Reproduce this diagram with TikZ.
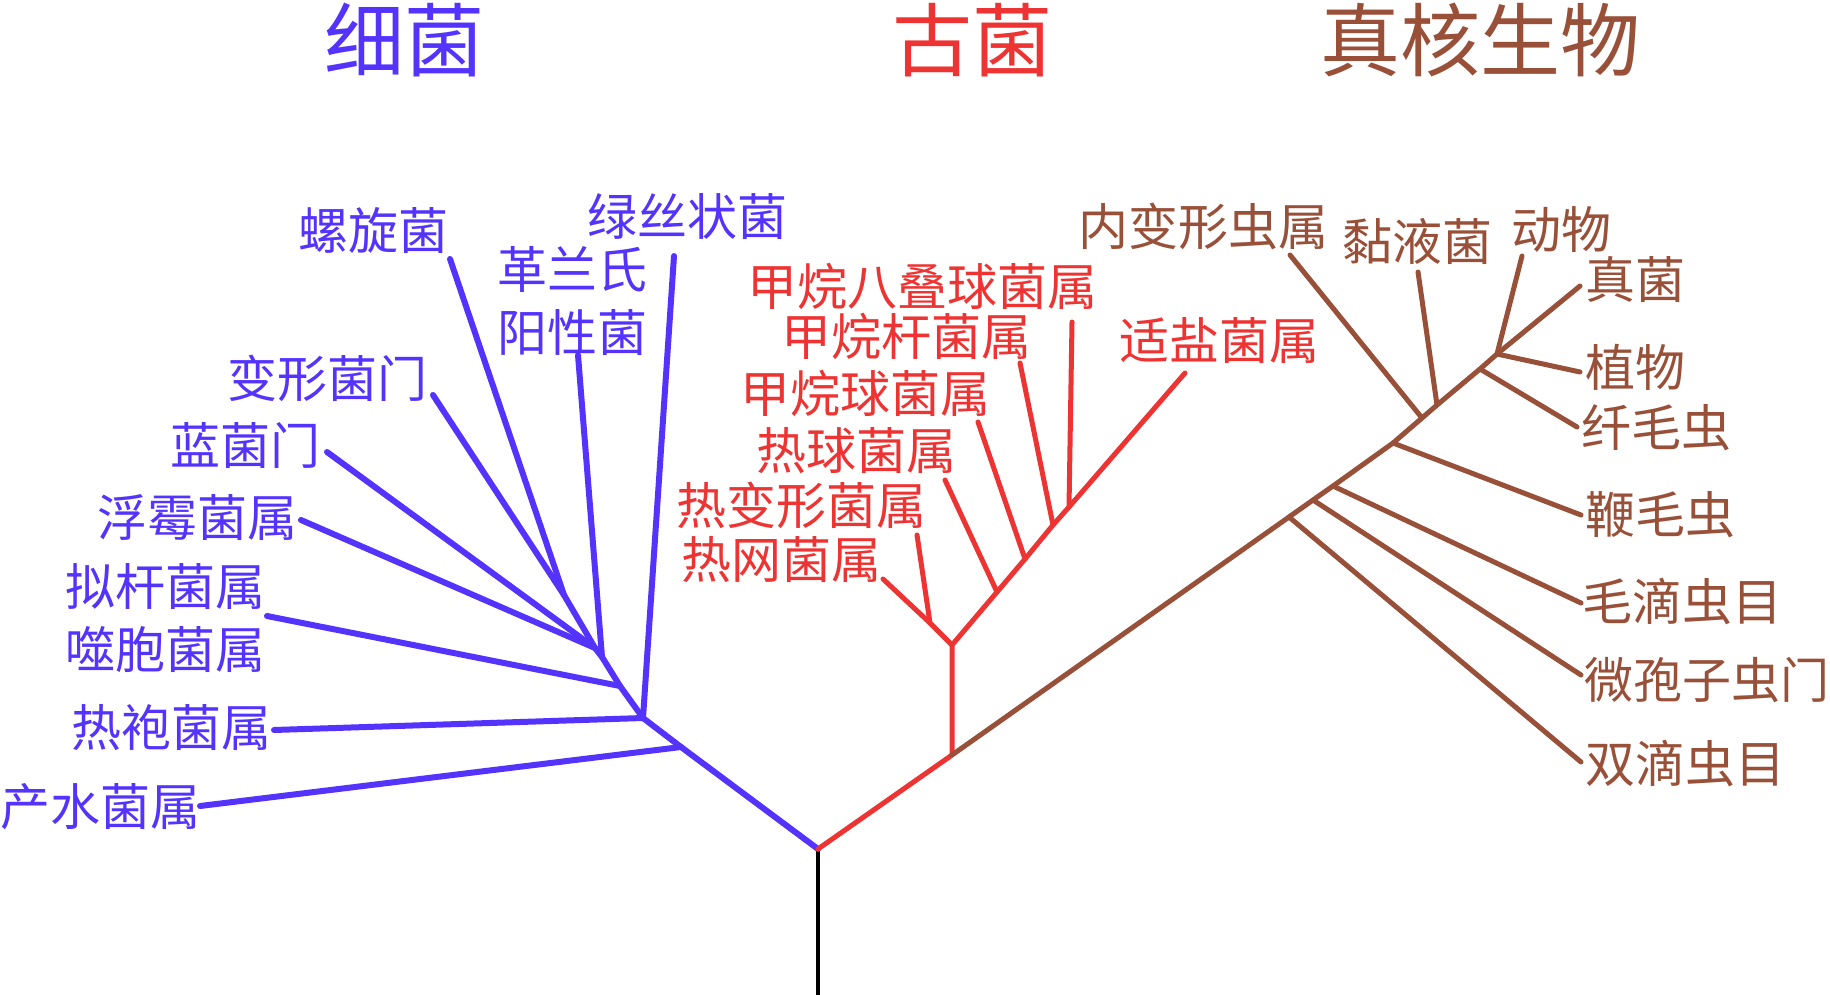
\documentclass[tikz,border=0pt]{standalone}
\usepackage{fontspec}
\setmainfont{Noto Sans CJK SC}
\definecolor{bac}{RGB}{85,51,255}
\definecolor{arc}{RGB}{238,51,51}
\definecolor{euk}{RGB}{153,80,56}
\begin{document}
\begin{tikzpicture}[x=1pt,y=-1pt,
  lbl/.style={inner sep=0pt, font=\fontsize{50}{62.5}\selectfont, align=center},
  ttl/.style={inner sep=0pt, font=\fontsize{80}{90}\selectfont},
  bline/.style={draw=bac, line width=6pt, line cap=round, line join=round},
  aline/.style={draw=arc, line width=5pt, line cap=round, line join=round},
  eline/.style={draw=euk, line width=5pt, line cap=round, line join=round},
  rline/.style={draw=black, line width=4.5pt}
]
\useasboundingbox (0,0) rectangle (1830,995);

% titles
\node[ttl, text=bac] (tb) at (404,40) {细菌};
\node[ttl, text=arc] (ta) at (972,40) {古菌};
\node[ttl, text=euk] (te) at (1480,40) {真核生物};

% ---------- junctions ----------
\coordinate (R) at (818,849);
\coordinate (Rb) at (818,995);
\coordinate (B1) at (681,747);
\coordinate (B2) at (643,718);
\coordinate (B3) at (620,686);
\coordinate (B4) at (602,657);
\coordinate (B5) at (595,648);
\coordinate (B6) at (564,595);

\coordinate (A0) at (952,755);
\coordinate (A1) at (952,645);
\coordinate (A2) at (930,623);
\coordinate (A3) at (997,592);
\coordinate (A4) at (1025,559);
\coordinate (A5) at (1053,525);
\coordinate (A6) at (1069,507);

\coordinate (E1) at (1289,517);
\coordinate (E2) at (1313,500);
\coordinate (E3) at (1333,486);
\coordinate (E4) at (1393,443);
\coordinate (E5) at (1422,418);
\coordinate (E6) at (1437,405);
\coordinate (E7) at (1480,369);
\coordinate (E8) at (1497,354);

% ---------- branch ends ----------
\coordinate (bLuo) at (450,259);
\coordinate (bBian) at (433,395);
\coordinate (bLan) at (327,452);
\coordinate (bFu) at (301,520);
\coordinate (bGe) at (578,355);
\coordinate (bNi) at (267,616);
\coordinate (bLv) at (674,256);
\coordinate (bRe) at (274,730);
\coordinate (bChan) at (200,806);

\coordinate (aWang) at (883,579);
\coordinate (aBian) at (917,535);
\coordinate (aQiu) at (945,480);
\coordinate (aJq) at (978,422);
\coordinate (aJg) at (1020,363);
\coordinate (aJb) at (1072,322);
\coordinate (aShi) at (1185,373);

\coordinate (eShuang) at (1581,762);
\coordinate (eWei) at (1581,675);
\coordinate (eMao) at (1581,603);
\coordinate (eBian) at (1581,515);
\coordinate (eNei) at (1290,255);
\coordinate (eNian) at (1418,272);
\coordinate (eXian) at (1577,427);
\coordinate (eDong) at (1522,256);
\coordinate (eZhen) at (1580,286);
\coordinate (eZhi) at (1580,372);

% ---------- labels ----------
\begin{scope}[text=bac]
\node[lbl] (luo) at (373,230) {螺旋菌};
\node[lbl] (lv) at (687,216) {绿丝状菌};
\node[lbl] (ge) at (572,301) {革兰氏\\阳性菌};
\node[lbl] (bian) at (327,378) {变形菌门};
\node[lbl] (lan) at (245,445) {蓝菌门};
\node[lbl] (fu) at (197,518) {浮霉菌属};
\node[lbl] (ni) at (165,618) {拟杆菌属\\噬胞菌属};
\node[lbl] (re) at (171,728) {热袍菌属};
\node[lbl] (chan) at (100,807) {产水菌属};
\end{scope}
\begin{scope}[text=arc]
\node[lbl] (jb) at (922,286) {甲烷八叠球菌属};
\node[lbl] (jg) at (906,336) {甲烷杆菌属};
\node[lbl] (shi) at (1219,341) {适盐菌属};
\node[lbl] (jq) at (865,393) {甲烷球菌属};
\node[lbl] (rq) at (856,451) {热球菌属};
\node[lbl] (rb) at (801,505) {热变形菌属};
\node[lbl] (rw) at (781,560) {热网菌属};
\end{scope}
\begin{scope}[text=euk]
\node[lbl] (nei) at (1203,226) {内变形虫属};
\node[lbl] (nian) at (1417,241) {黏液菌};
\node[lbl] (dong) at (1561,229) {动物};
\node[lbl] (zhen) at (1635,279) {真菌};
\node[lbl] (zhi) at (1635,367) {植物};
\node[lbl] (xian) at (1656,428) {纤毛虫};
\node[lbl] (bm) at (1660,515) {鞭毛虫};
\node[lbl] (md) at (1682,602) {毛滴虫目};
\node[lbl, font=\fontsize{49}{62.5}\selectfont] (wb) at (1707,680) {微孢子虫门};
\node[lbl] (sd) at (1685,764) {双滴虫目};
\end{scope}

% ---------- root ----------
\draw[rline] (R) -- (Rb);

% ---------- bacteria ----------
\draw[bline] (bLuo) -- (B6) -- (B5) -- (B4) -- (B3) -- (B2) -- (B1) -- (R);
\draw[bline] (bBian) -- (B6);
\draw[bline] (bLan) -- (B5);
\draw[bline] (bFu) -- (B5);
\draw[bline] (bGe) -- (B4);
\draw[bline] (bNi) -- (B3);
\draw[bline] (bLv) -- (B2);
\draw[bline] (bRe) -- (B2);
\draw[bline] (bChan) -- (B1);

% ---------- archaea ----------
\draw[aline] (R) -- (A0) -- (A1) -- (A3) -- (A4) -- (A5) -- (A6) -- (aShi);
\draw[aline] (A1) -- (A2) -- (aWang);
\draw[aline] (aBian) -- (A2);
\draw[aline] (aQiu) -- (A3);
\draw[aline] (aJq) -- (A4);
\draw[aline] (aJg) -- (A5);
\draw[aline] (aJb) -- (A6);

% ---------- eukaryotes ----------
\draw[eline] (A0) -- (E1) -- (E2) -- (E3) -- (E4) -- (E5) -- (E6) -- (E7) -- (E8) -- (eDong);
\draw[eline] (E1) -- (eShuang);
\draw[eline] (E2) -- (eWei);
\draw[eline] (E3) -- (eMao);
\draw[eline] (E4) -- (eBian);
\draw[eline] (E5) -- (eNei);
\draw[eline] (E6) -- (eNian);
\draw[eline] (E7) -- (eXian);
\draw[eline] (E8) -- (eZhen);
\draw[eline] (E8) -- (eZhi);
\end{tikzpicture}
\end{document}
